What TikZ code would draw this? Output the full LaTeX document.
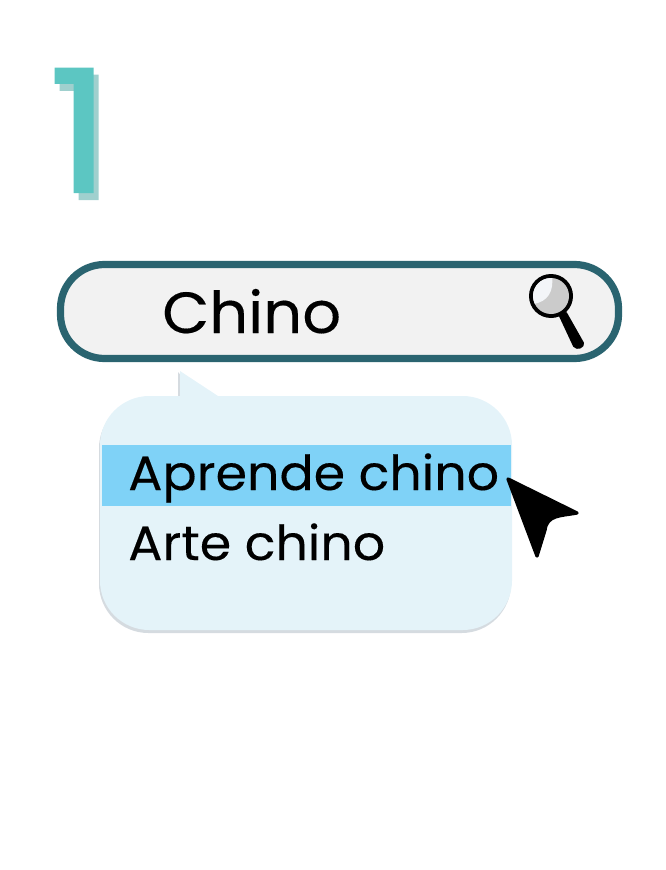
\documentclass[tikz,border=0pt]{standalone}
\usepackage{fontspec}
\usepackage{xcolor}
\usepackage{tikz}
\usetikzlibrary{positioning}
\setmainfont{Poppins}[FakeStretch=1.05, FakeBold=0.25]
\newfontfamily\numfont{Poppins}[FakeStretch=1.15, FakeBold=1.2]
\definecolor{mybar}{HTML}{2A6470}
\definecolor{mygrey}{HTML}{F2F2F2}
\definecolor{mypanel}{HTML}{E4F3F9}
\definecolor{myedge}{HTML}{D5DBE0}
\definecolor{myrow}{HTML}{7FD2F7}
\definecolor{myteal}{HTML}{5CC6C2}
\definecolor{myshade}{HTML}{A0D0CE}
\definecolor{mylens}{HTML}{CBCBCB}
\definecolor{myshine}{HTML}{F3F5F8}
\tikzstyle{numeral} = [font=\numfont\fontsize{128}{128}\selectfont, inner sep=0pt, anchor=base west]
\tikzstyle{entry} = [font=\fontsize{36.2}{36.2}\selectfont, text=black, inner sep=0pt, anchor=base west]

\begin{document}
\begin{tikzpicture}[x=0.75pt, y=-0.75pt]
    \useasboundingbox (0,0) rectangle (665,870);
    % step number
    \node[numeral, myshade] (numshade) at (53,199) {1};
    \node[numeral, myteal] (num) at (48,192) {1};
    % search bar
    \draw[mybar, fill=mygrey, line width=5.4pt, rounded corners=33pt] (60.5,264.5) rectangle (618.5,358.5);
    \node[entry, font=\fontsize{43.5}{43.5}\selectfont] (query) at (162,333) {Chino};
    % magnifier
    \fill[black, draw=black, line width=1.5pt, line join=round] (560,316) -- (566,313) -- (583,343)
      .. controls (584,347) and (577,350) .. (574,346) -- cycle;
    \fill[black] (551,296) circle (22);
    \fill[mylens] (551,296) circle (18);
    \begin{scope}
      \clip (551,296) circle (18);
      \fill[myshine] (531,276) -- (552,276) .. controls (554,291) and (548,302) .. (533,304) -- cycle;
    \end{scope}
    % suggestion panel
    \fill[myedge] (178,372) -- (178,398) -- (200,398) -- cycle;
    \fill[myedge, rounded corners=37pt] (99,399) rectangle (511,633);
    \fill[mypanel] (180,371) -- (218,396) -- (180,400) -- cycle;
    \fill[mypanel, rounded corners=37pt] (100,396) rectangle (512,630);
    \fill[myrow] (102,445) rectangle (511,506);
    \node[entry] (first) at (128,490) {Aprende chino};
    \node[entry] (second) at (128,560) {Arte chino};
    % cursor
    \fill[black, draw=black, line width=2.5pt, line join=round] (508,479) -- (577,513)
      .. controls (560,516) and (547,515) .. (545,530) -- (537,556) -- cycle;
\end{tikzpicture}
\end{document}
